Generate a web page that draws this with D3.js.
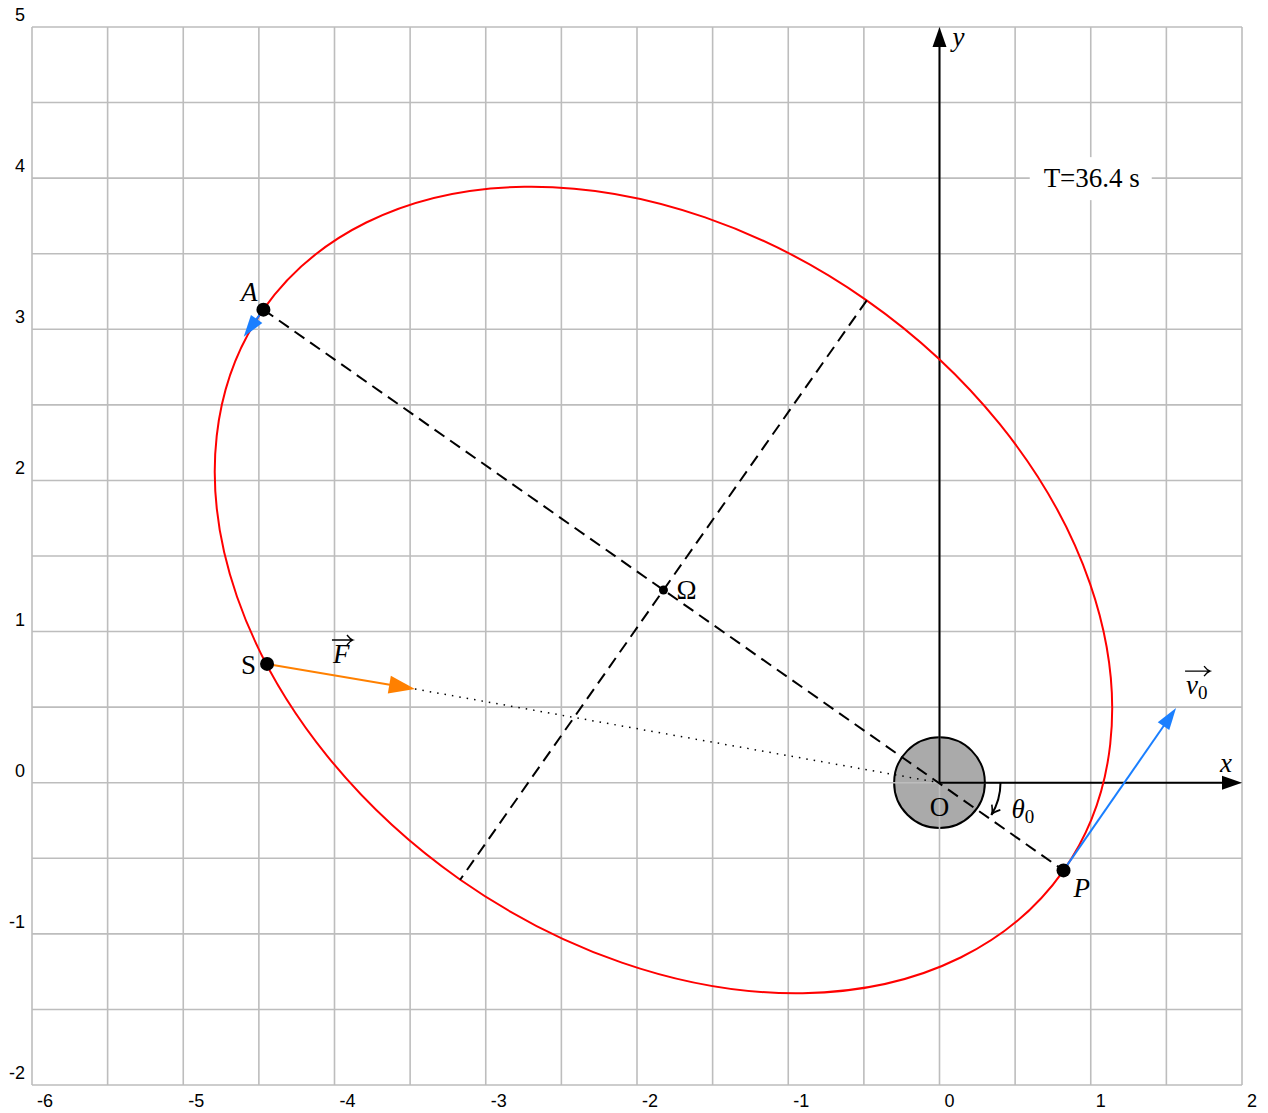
<!DOCTYPE html>
<html>
<head>
<meta charset="utf-8">
<script src="https://cdn.jsdelivr.net/npm/d3@7"></script>
<style>
  body { margin: 0; background: #fff; }
  .tick { font-family: "Liberation Sans", Arial, sans-serif; font-size: 18px; fill: #000; }
  .math { font-family: "Liberation Serif", "DejaVu Serif", serif; font-size: 27px; fill: #000; }
</style>
</head>
<body>
<div class="canvas"></div>
<script>
// axis ranges and tick labels
const xTicks = [-6, -5, -4, -3, -2, -1, 0, 1, 2];
const yTicks = [-2, -1, 0, 1, 2, 3, 4, 5];
const gridStep = 0.5;

// named points of the orbit (focus O at the origin)
const pointNames = ['P', 'A', 'S'];
const pointX = [0.82, -4.47, -4.446];
const pointY = [-0.58, 3.13, 0.786];

// vector tips: v0 at P, velocity at A, force at S
const vectorNames = ['v0', 'vA', 'F'];
const vectorTipX = [1.564, -4.60, -3.468];
const vectorTipY = [0.494, 2.95, 0.62];

// planet radius and period label
const planetRadius = [0.3];
const periodLabel = ['T=36.4 s'];

// dimensions
const dims = { width: 1268, height: 1113 };
const plot = { left: 32, right: 1242, top: 27, bottom: 1085 };

const svg = d3.select('.canvas')
  .append('svg')
  .attr('width', dims.width)
  .attr('height', dims.height);

const x = d3.scaleLinear().domain([-6, 2]).range([plot.left, plot.right]);
const y = d3.scaleLinear().domain([-2, 5]).range([plot.bottom, plot.top]);
const kx = x(1) - x(0), ky = y(0) - y(1);

// planet first, so the grid and axes show through it
svg.append('circle')
  .attr('cx', x(0)).attr('cy', y(0)).attr('r', planetRadius[0] * kx)
  .attr('fill', '#aaaaaa').attr('stroke', '#000').attr('stroke-width', 2);

// grid every half unit
const gx = d3.range(-6, 2 + 1e-9, gridStep);
const gy = d3.range(-2, 5 + 1e-9, gridStep);
const grid = svg.append('g').attr('stroke', '#bdbdbd').attr('stroke-width', 1.6);
grid.selectAll('.gx').data(gx).enter().append('line')
  .attr('x1', d => x(d)).attr('x2', d => x(d))
  .attr('y1', plot.top).attr('y2', plot.bottom);
grid.selectAll('.gy').data(gy).enter().append('line')
  .attr('y1', d => y(d)).attr('y2', d => y(d))
  .attr('x1', plot.left).attr('x2', plot.right);

// tick labels
svg.selectAll('.xt').data(xTicks).enter().append('text')
  .attr('class', 'tick')
  .attr('x', d => x(d) + 5).attr('y', plot.bottom + 22)
  .text(d => d);
svg.selectAll('.yt').data(yTicks).enter().append('text')
  .attr('class', 'tick')
  .attr('text-anchor', 'end')
  .attr('x', 25).attr('y', d => y(d) - 6)
  .text(d => d);

// arrowhead polygon helper (pixel coords)
const arrowHead = (x1, y1, x2, y2, len, w) => {
  const a = Math.atan2(y2 - y1, x2 - x1);
  const bx = x2 - len * Math.cos(a), by = y2 - len * Math.sin(a);
  const nx = -Math.sin(a) * w / 2, ny = Math.cos(a) * w / 2;
  return [[x2, y2], [bx + nx, by + ny], [bx - nx, by - ny]].map(p => p.join(',')).join(' ');
};
const shorten = (x1, y1, x2, y2, len) => {
  const a = Math.atan2(y2 - y1, x2 - x1);
  return [x2 - len * Math.cos(a), y2 - len * Math.sin(a)];
};

// T label with white box
const tx = x(1.0), ty = y(4.0);
svg.append('rect')
  .attr('x', tx - 61).attr('y', ty - 21).attr('width', 122).attr('height', 43)
  .attr('fill', '#fff');
svg.append('text').attr('class', 'math')
  .attr('x', tx + 1).attr('y', ty + 9)
  .attr('text-anchor', 'middle')
  .text(periodLabel[0]);

// orbit geometry from perihelion P and aphelion A
const P = [pointX[0], pointY[0]], A = [pointX[1], pointY[1]];
const C = [(P[0] + A[0]) / 2, (P[1] + A[1]) / 2];
const semiA = Math.hypot(A[0] - P[0], A[1] - P[1]) / 2;
const focalC = Math.hypot(C[0], C[1]);
const semiB = Math.sqrt(semiA * semiA - focalC * focalC);
const ux = (P[0] - C[0]) / semiA, uy = (P[1] - C[1]) / semiA;
const rot = -Math.atan2(uy, ux) * 180 / Math.PI;

// axes
const ax = svg.append('g').attr('stroke', '#000').attr('stroke-width', 2);
ax.append('line').attr('x1', x(0)).attr('y1', y(0)).attr('x2', x(0)).attr('y2', y(5) + 16);
ax.append('line').attr('x1', x(0)).attr('y1', y(0)).attr('x2', x(2) - 16).attr('y2', y(0));
svg.append('polygon').attr('points', arrowHead(x(0), y(0), x(0), y(5), 20, 14)).attr('fill', '#000');
svg.append('polygon').attr('points', arrowHead(x(0), y(0), x(2), y(0), 20, 14)).attr('fill', '#000');
svg.append('text').attr('class', 'math').style('font-style', 'italic')
  .attr('x', x(0) + 13).attr('y', y(5) + 19).text('y');
svg.append('text').attr('class', 'math').style('font-style', 'italic')
  .attr('x', x(2) - 22).attr('y', y(0) - 11).text('x');

// dotted line from force tip to O
svg.append('line')
  .attr('x1', x(vectorTipX[2])).attr('y1', y(vectorTipY[2]))
  .attr('x2', x(0)).attr('y2', y(0))
  .attr('stroke', '#000').attr('stroke-width', 1.5).attr('stroke-dasharray', '1.5,6');

// the orbit
svg.append('ellipse')
  .attr('cx', x(C[0])).attr('cy', y(C[1]))
  .attr('rx', semiA * kx).attr('ry', semiB * ky)
  .attr('transform', `rotate(${rot}, ${x(C[0])}, ${y(C[1])})`)
  .attr('fill', 'none').attr('stroke', '#ff0000').attr('stroke-width', 2);

svg.append('text').attr('class', 'math').attr('text-anchor', 'middle')
  .attr('x', x(0)).attr('y', y(0) + 33).text('O');

// major and minor axes (dashed)
const dashed = svg.append('g').attr('stroke', '#000').attr('stroke-width', 2)
  .attr('stroke-dasharray', '12,7').attr('fill', 'none');
dashed.append('line').attr('x1', x(A[0])).attr('y1', y(A[1])).attr('x2', x(P[0])).attr('y2', y(P[1]));
dashed.append('line')
  .attr('x1', x(C[0] - uy * semiB)).attr('y1', y(C[1] + ux * semiB))
  .attr('x2', x(C[0] + uy * semiB)).attr('y2', y(C[1] - ux * semiB));

// center Omega
svg.append('circle').attr('cx', x(C[0])).attr('cy', y(C[1])).attr('r', 4.5).attr('fill', '#000');
svg.append('text').attr('class', 'math').attr('x', x(C[0]) + 13).attr('y', y(C[1]) + 9).text('Ω');

// theta0 arc
const theta0 = Math.atan2(P[1], P[0]);
const arcR = 61;
const arcEnd = -theta0 - 0.06;
const arcPath = d3.path();
arcPath.arc(x(0), y(0), arcR, 0, arcEnd, false);
svg.append('path').attr('d', arcPath.toString())
  .attr('fill', 'none').attr('stroke', '#000').attr('stroke-width', 2);
const ex = x(0) + arcR * Math.cos(arcEnd), ey = y(0) + arcR * Math.sin(arcEnd);
const tdx = -Math.sin(arcEnd), tdy = Math.cos(arcEnd);
const hx = -tdy, hy = tdx;
svg.append('path')
  .attr('d', `M${ex - 9 * tdx + 5 * hx},${ey - 9 * tdy + 5 * hy} Q${ex - 3 * tdx},${ey - 3 * tdy} ${ex},${ey} Q${ex - 3 * tdx},${ey - 3 * tdy} ${ex - 9 * tdx - 5 * hx},${ey - 9 * tdy - 5 * hy}`)
  .attr('fill', 'none').attr('stroke', '#000').attr('stroke-width', 1.6);
svg.append('text').attr('class', 'math').style('font-style', 'italic')
  .attr('x', x(0) + 72).attr('y', y(0) + 35).text('θ')
  .append('tspan').style('font-style', 'normal').attr('font-size', 19).attr('dy', 5).text('0');

// vectors
const vecColors = ['#1a7fff', '#1a7fff', '#ff8000'];
const vecHead = [[22, 14], [22, 14], [26, 18]];
const vecFrom = [0, 1, 2];
vectorNames.forEach((name, i) => {
  const j = vecFrom[i];
  const x1 = x(pointX[j]), y1 = y(pointY[j]);
  const x2 = x(vectorTipX[i]), y2 = y(vectorTipY[i]);
  const [sx, sy] = shorten(x1, y1, x2, y2, vecHead[i][0] - 2);
  svg.append('line').attr('x1', x1).attr('y1', y1).attr('x2', sx).attr('y2', sy)
    .attr('stroke', vecColors[i]).attr('stroke-width', 2);
  svg.append('polygon').attr('points', arrowHead(x1, y1, x2, y2, vecHead[i][0], vecHead[i][1]))
    .attr('fill', vecColors[i]);
});

// orbit points
svg.selectAll('.pt').data(pointNames).enter().append('circle')
  .attr('cx', (d, i) => x(pointX[i])).attr('cy', (d, i) => y(pointY[i]))
  .attr('r', 7).attr('fill', '#000');
svg.append('text').attr('class', 'math').style('font-style', 'italic')
  .attr('text-anchor', 'end').attr('x', x(A[0]) - 6).attr('y', y(A[1]) - 9).text('A');
svg.append('text').attr('class', 'math').style('font-style', 'italic')
  .attr('x', x(P[0]) + 10).attr('y', y(P[1]) + 27).text('P');
svg.append('text').attr('class', 'math')
  .attr('text-anchor', 'end').attr('x', x(pointX[2]) - 11).attr('y', y(pointY[2]) + 10).text('S');

// vector labels with arrows over them
const vecLabel = (lx, ly, letter, sub) => {
  const t = svg.append('text').attr('class', 'math').style('font-style', 'italic')
    .attr('x', lx).attr('y', ly).text(letter);
  if (sub) t.append('tspan').style('font-style', 'normal').attr('font-size', 19).attr('dy', 5).text(sub);
  const w = sub ? 24 : 20;
  const ay = ly - 23;
  svg.append('path')
    .attr('d', `M${lx - 1},${ay} L${lx + w},${ay} M${lx + w - 6},${ay - 5} Q${lx + w - 3},${ay - 1} ${lx + w},${ay} Q${lx + w - 3},${ay + 1} ${lx + w - 6},${ay + 5}`)
    .attr('fill', 'none').attr('stroke', '#000').attr('stroke-width', 1.3);
};
vecLabel(x(vectorTipX[2]) - 82, y(vectorTipY[2]) - 26, 'F', null);
vecLabel(x(vectorTipX[0]) + 10, y(vectorTipY[0]) - 14, 'v', '0');
</script>
</body>
</html>
